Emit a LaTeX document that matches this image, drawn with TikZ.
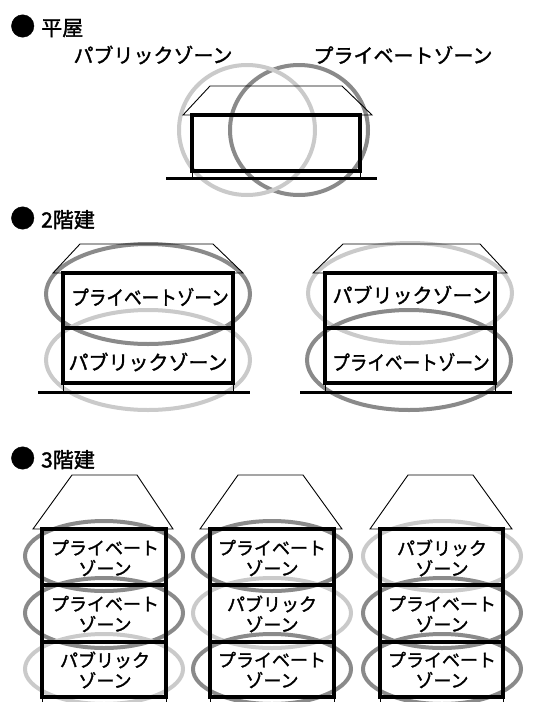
\documentclass[tikz,border=0pt]{standalone}
\usepackage{fontspec}
\newfontfamily\jp[UprightFeatures={FakeBold=1.6}]{Noto Sans CJK JP}
\definecolor{privgray}{HTML}{8A8A8A}
\definecolor{pubgray}{HTML}{CACACA}
\tikzset{
  wall/.style={line width=3.5pt},
  roofline/.style={line width=0.9pt, line join=miter},
  groundline/.style={line width=3pt},
  post/.style={line width=0.8pt},
  zonepriv/.style={draw=privgray, line width=4pt},
  zonepub/.style={draw=pubgray, line width=4pt},
  lbl/.style={font=\jp\fontsize{20}{20}\selectfont, inner sep=0pt},
  lbltwo/.style={font=\jp\fontsize{18}{20.5}\selectfont, inner sep=0pt, align=center},
  heading/.style={font=\jp\fontsize{21}{21}\selectfont, anchor=west, inner sep=0pt},
}
\newcommand{\headbullet}{{\fontsize{25}{25}\selectfont ●}\hspace{6pt}}
\begin{document}
\begin{tikzpicture}[x=1pt, y=-1pt]
\useasboundingbox[fill=white] (0,0) rectangle (533,702);

% ---------- one-storey house ----------
\node[heading] (h1) at (10,26) {\headbullet 平屋};
\node[lbl] (p1) at (153,55) {パブリックゾーン};
\node[lbl] (q1) at (403,55) {プライベートゾーン};
\draw[zonepriv] (299,130) ellipse [x radius=69, y radius=65];
\draw[zonepub] (247,130) ellipse [x radius=68, y radius=65];
\draw[roofline] (183,115) -- (210,86) -- (342,86) -- (372,115) -- cycle;
\draw[wall] (192,115) rectangle (360,171);
\draw[post] (192,171) -- (192,178) (360,171) -- (360,178);
\draw[groundline] (166,178) -- (377,178);

% ---------- two-storey houses ----------
\node[heading] (h2) at (10,218) {\headbullet 2階建};
% left house
\draw[zonepriv] (148,294) ellipse [x radius=102, y radius=50];
\draw[zonepub] (148,360) ellipse [x radius=102, y radius=50];
\draw[roofline] (53,273) -- (80,244) -- (213,244) -- (243,273) -- cycle;
\draw[wall] (63,273) rectangle (233,383) (63,328) -- (233,328);
\draw[post] (63,383) -- (63,392) (233,383) -- (233,392);
\draw[groundline] (38,392) -- (250,392);
\node[lbl, xscale=0.88] (q2) at (150,297) {プライベートゾーン};
\node[lbl] (p2) at (148,362) {パブリックゾーン};
% right house
\draw[zonepub] (410,293) ellipse [x radius=102, y radius=50];
\draw[zonepriv] (409,360) ellipse [x radius=102, y radius=50];
\draw[roofline] (313,273) -- (343,244) -- (480,244) -- (507,273) -- cycle;
\draw[wall] (325,273) rectangle (495,383) (325,328) -- (495,328);
\draw[post] (325,383) -- (325,392) (495,383) -- (495,392);
\draw[groundline] (300,392) -- (512,392);
\node[lbl] (p3) at (412,295) {パブリックゾーン};
\node[lbl, xscale=0.88] (q3) at (411,362) {プライベートゾーン};

% ---------- three-storey houses ----------
\node[heading] (h3) at (10,458) {\headbullet 3階建};
% left building
\draw[zonepriv] (104,556) ellipse [x radius=79, y radius=35];
\draw[zonepriv] (104,613) ellipse [x radius=79, y radius=35];
\draw[zonepub] (104,669) ellipse [x radius=79, y radius=35];
\draw[roofline] (33,529) -- (72,475) -- (137,475) -- (173,529) -- cycle;
\draw[wall] (42,529) rectangle (166,697) (42,585) -- (166,585) (42,642) -- (166,642);
\draw[post] (42,697) -- (42,702) (166,697) -- (166,702);
\node[lbltwo] (a1) at (105,558) {プライベート\\ゾーン};
\node[lbltwo] (a2) at (105,614) {プライベート\\ゾーン};
\node[lbltwo] (a3) at (105,670) {パブリック\\ゾーン};
% middle building
\draw[zonepriv] (272,556) ellipse [x radius=79, y radius=35];
\draw[zonepub] (272,613) ellipse [x radius=79, y radius=35];
\draw[zonepriv] (272,669) ellipse [x radius=79, y radius=35];
\draw[roofline] (200,529) -- (238,475) -- (303,475) -- (342,529) -- cycle;
\draw[wall] (210,529) rectangle (334,697) (210,585) -- (334,585) (210,642) -- (334,642);
\draw[post] (210,697) -- (210,702) (334,697) -- (334,702);
\node[lbltwo] (b1) at (272,558) {プライベート\\ゾーン};
\node[lbltwo] (b2) at (272,614) {パブリック\\ゾーン};
\node[lbltwo] (b3) at (272,670) {プライベート\\ゾーン};
% right building
\draw[zonepub] (442,556) ellipse [x radius=79, y radius=35];
\draw[zonepriv] (442,613) ellipse [x radius=79, y radius=35];
\draw[zonepriv] (442,669) ellipse [x radius=79, y radius=35];
\draw[roofline] (370,529) -- (408,475) -- (473,475) -- (512,529) -- cycle;
\draw[wall] (380,529) rectangle (503,697) (380,585) -- (503,585) (380,642) -- (503,642);
\draw[post] (380,697) -- (380,702) (503,697) -- (503,702);
\node[lbltwo] (c1) at (442,558) {パブリック\\ゾーン};
\node[lbltwo] (c2) at (442,614) {プライベート\\ゾーン};
\node[lbltwo] (c3) at (442,670) {プライベート\\ゾーン};
\end{tikzpicture}
\end{document}
